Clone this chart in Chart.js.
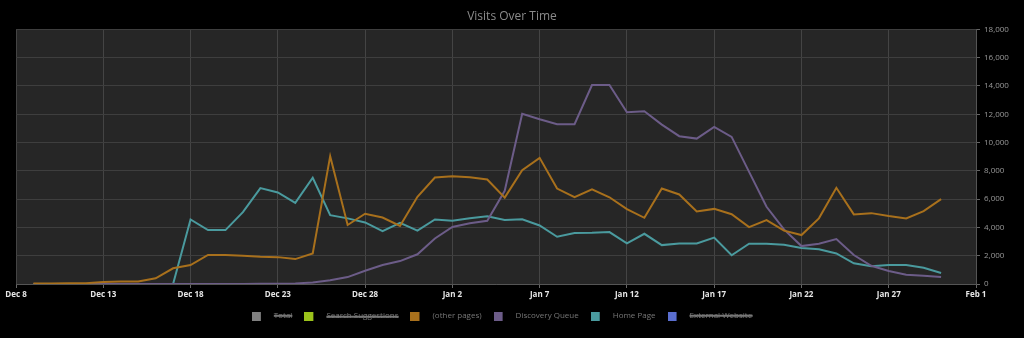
<!DOCTYPE html>
<html>
<head>
<meta charset="utf-8">
<script src="https://cdn.jsdelivr.net/npm/chart.js@4/dist/chart.umd.min.js"></script>
<style>
  html, body { margin: 0; padding: 0; background: #000; }
  #wrap { width: 1024px; height: 338px; }
</style>
</head>
<body>
<div id="wrap"><canvas id="visitsChart" width="1024" height="338"></canvas></div>
<script>
// x axis is days since Dec 8; the series start on Dec 9
const firstDay = 1;
const xTickLabels = ['Dec 8', 'Dec 13', 'Dec 18', 'Dec 23', 'Dec 28', 'Jan 2', 'Jan 7', 'Jan 12', 'Jan 17', 'Jan 22', 'Jan 27', 'Feb 1'];

const otherPages = [
  30, 40, 50, 60, 150, 180, 170, 400, 1110, 1340,
  2050, 2050, 2000, 1930, 1900, 1760, 2160, 9040, 4170, 4970,
  4700, 4100, 6170, 7530, 7620, 7540, 7390, 6110, 8050, 8920,
  6750, 6140, 6700, 6130, 5300, 4680, 6750, 6330, 5130, 5310,
  4930, 4020, 4520, 3770, 3460, 4640, 6800, 4920, 5010, 4800,
  4640, 5150, 6000
];
const discoveryQueue = [
  0, 0, 0, 0, 0, 0, 0, 0, 0, 0,
  0, 0, 0, 10, 20, 40, 110, 260, 490, 940,
  1340, 1620, 2100, 3220, 4030, 4290, 4470, 6590, 12030, 11650,
  11300, 11300, 14070, 14070, 12140, 12210, 11270, 10450, 10280, 11110,
  10400, 7930, 5460, 3860, 2680, 2850, 3180, 2050, 1290, 920,
  660, 590, 490
];
const homePage = [
  0, 0, 0, 0, 0, 0, 0, 0, 0, 4560,
  3810, 3810, 5080, 6780, 6470, 5740, 7510, 4870, 4640, 4350,
  3740, 4330, 3770, 4560, 4480, 4650, 4790, 4530, 4570, 4140,
  3340, 3600, 3620, 3670, 2870, 3550, 2750, 2870, 2870, 3280,
  2030, 2850, 2850, 2780, 2540, 2450, 2160, 1460, 1250, 1340,
  1340, 1150, 780
];
// hidden in the reference (struck through in the legend), values not readable
const total = [];
const searchSuggestions = [];
const externalWebsite = [];

function toPoints(values) {
  return values.map((v, i) => ({ x: firstDay + i, y: v }));
}

// small square with empty room to its right, so the legend text sits further away
function legendSwatch(color) {
  const c = document.createElement('canvas');
  c.width = 18;
  c.height = 9;
  const g = c.getContext('2d');
  g.fillStyle = color;
  g.fillRect(0, 0, 9, 9);
  return c;
}

// dark plot background
const plotBg = {
  id: 'plotBg',
  beforeDraw(chart) {
    const { ctx, chartArea: a } = chart;
    ctx.save();
    ctx.fillStyle = '#262626';
    ctx.fillRect(a.left, a.top, a.right - a.left, a.bottom - a.top);
    ctx.restore();
  }
};

// the original legend sits a bit higher and a bit left of centre
const legendNudge = {
  id: 'legendNudge',
  afterLayout(chart) {
    const lg = chart.legend;
    if (!lg) return;
    lg.left -= 10;
    lg.right -= 10;
    lg.top -= 6;
    lg.bottom -= 6;
  }
};

function series(label, values, color, hidden) {
  return {
    label: label,
    data: toPoints(values),
    borderColor: color,
    backgroundColor: color,
    borderWidth: 2,
    pointRadius: 0,
    pointStyle: legendSwatch(color),
    tension: 0,
    hidden: hidden
  };
}

const ctx = document.getElementById('visitsChart').getContext('2d');
new Chart(ctx, {
  type: 'line',
  data: {
    datasets: [
      series('Total', total, '#808080', true),
      series('Search Suggestions', searchSuggestions, '#9bc21b', true),
      series('(other pages)', otherPages, '#a8701c', false),
      series('Discovery Queue', discoveryQueue, '#6c5c88', false),
      series('Home Page', homePage, '#4a9a9e', false),
      series('External Website', externalWebsite, '#5a6ecf', true)
    ]
  },
  options: {
    responsive: false,
    animation: false,
    layout: { padding: { left: 0, right: 0, top: 0, bottom: 2 } },
    plugins: {
      title: {
        display: true,
        text: 'Visits Over Time',
        color: '#8a8a8a',
        font: { family: 'Open Sans', size: 12, weight: 'normal' },
        padding: { top: 9, bottom: 6 }
      },
      legend: {
        position: 'bottom',
        labels: {
          color: '#777',
          usePointStyle: true,
          pointStyleWidth: 18,
          boxHeight: 9,
          padding: 12,
          font: { family: 'Open Sans', size: 8 }
        }
      },
      tooltip: { enabled: false }
    },
    scales: {
      x: {
        type: 'linear',
        min: 0,
        max: 55,
        ticks: {
          stepSize: 5,
          color: '#e6e6e6',
          font: { family: 'Open Sans', size: 8, weight: 'bold' },
          maxRotation: 0,
          padding: 2,
          callback: (v) => xTickLabels[v / 5]
        },
        grid: { color: '#444', tickLength: 4, tickColor: '#666' },
        border: { color: '#555' },
        afterFit(scale) { scale.height = 22; }
      },
      y: {
        position: 'right',
        min: 0,
        max: 18000,
        ticks: {
          stepSize: 2000,
          color: '#999',
          font: { family: 'Open Sans', size: 8 },
          padding: 4,
          callback: (v) => v.toLocaleString('en-US')
        },
        grid: { color: '#3e3e3e', tickLength: 4, tickColor: '#666' },
        border: { color: '#555' },
        afterFit(scale) { scale.width = 48; }
      },
      // empty strip on the left of the plot
      yLeft: {
        position: 'left',
        display: true,
        ticks: { display: false },
        grid: { display: false },
        border: { display: false },
        afterFit(scale) { scale.width = 16; }
      }
    }
  },
  plugins: [plotBg, legendNudge]
});
</script>
</body>
</html>
